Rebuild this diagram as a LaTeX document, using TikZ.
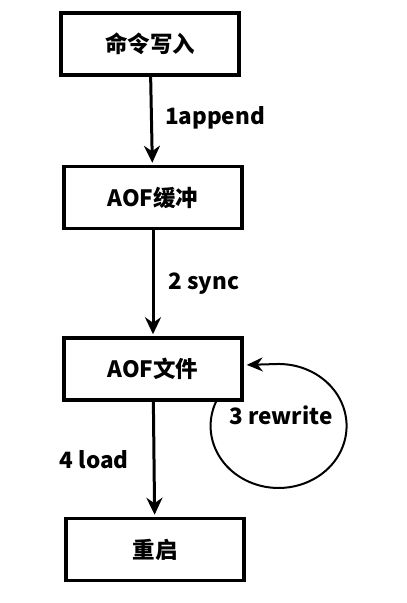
\documentclass[tikz,border=0pt]{standalone}
\usepackage{fontspec}
\setmainfont{Noto Sans CJK SC}
\usetikzlibrary{arrows.meta,positioning}

\begin{document}
\begin{tikzpicture}[
  x=1pt,y=1pt,
  font=\bfseries\fontsize{22.5}{27}\selectfont,
  every node/.style={align=center,inner sep=4pt},
  box/.style={draw,line width=3.5pt,minimum width=178pt,minimum height=62pt},
  arr/.style={-{Stealth[length=17pt,width=16pt]},line width=3pt,shorten >=2pt},
  rwarr/.style={-{Stealth[length=16pt,width=14pt]},line width=2pt,shorten >=3pt}
]
\useasboundingbox (0,0) rectangle (407,603);
\node[box] (cmd) at (150,559) {命令写入};
\node[box, below=88pt of cmd, xshift=3pt] (buf) {AOF缓冲};
\node[box, below=106pt of buf] (aof) {AOF文件};
\node[box, below=115pt of aof, xshift=2pt] (boot) {重启};
\node (rwlabel) at (281,188) {3 rewrite};
\coordinate (rwin) at ([xshift=63pt]aof.south);

\draw[arr] (cmd) -- node[right,xshift=8pt,yshift=3pt]{1append} (buf);
\draw[arr] (buf) -- node[right,xshift=10pt]{2 sync} (aof);
\draw[arr] (aof) -- node[left,xshift=-20pt]{4 load} (boot);
\draw[rwarr] (rwin) arc[start angle=157,end angle=450,x radius=68,y radius=62] -- ([yshift=4pt]aof.east);
\end{tikzpicture}
\end{document}
